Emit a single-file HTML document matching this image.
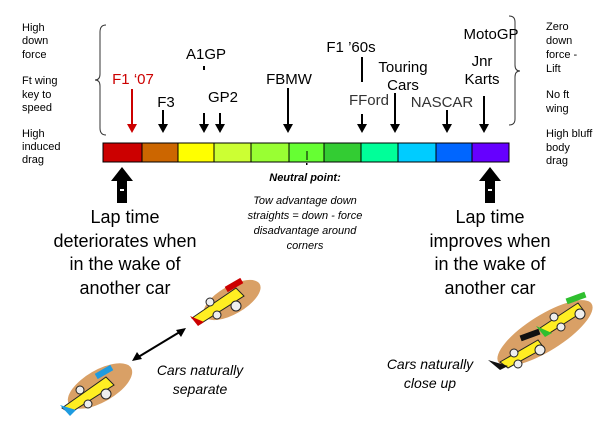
<!DOCTYPE html>
<html><head><style>body{margin:0;background:#fff}svg{display:block}text{font-family:"Liberation Sans",Arial,sans-serif}</style></head>
<body>
<svg width="613" height="441" viewBox="0 0 613 441" xmlns="http://www.w3.org/2000/svg">
<defs>
<marker id="ah" markerWidth="6" markerHeight="6" refX="3" refY="3" orient="auto" markerUnits="userSpaceOnUse"><path d="M0,0 L6,3 L0,6 Z"/></marker>
</defs>
<g font-size="11">
<text x="22" y="31">High</text><text x="22" y="44">down</text><text x="22" y="58">force</text>
<text x="22" y="84">Ft wing</text><text x="22" y="98">key to</text><text x="22" y="111">speed</text>
<text x="22" y="137">High</text><text x="22" y="150">induced</text><text x="22" y="163">drag</text>
<text x="546" y="30">Zero</text><text x="546" y="44">down</text><text x="546" y="58">force -</text><text x="546" y="72">Lift</text>
<text x="546" y="98">No ft</text><text x="546" y="112">wing</text>
<text x="546" y="137">High bluff</text><text x="546" y="151">body</text><text x="546" y="164">drag</text>
</g>
<path d="M106,25 Q100,25 100,32 L100,74 Q100,80 95,80 Q100,80 100,86 L100,128 Q100,135 106,135" fill="none" stroke="#333" stroke-width="1"/>
<path d="M509,16 Q515,16 515,22 L515,65 Q515,71 520,71 Q515,71 515,77 L515,119 Q515,125 509,125" fill="none" stroke="#333" stroke-width="1"/>
<g stroke="#000" stroke-width="1">
<rect x="103" y="143" width="39" height="19" fill="#cc0000"/>
<rect x="142" y="143" width="36" height="19" fill="#cc6600"/>
<rect x="178" y="143" width="36" height="19" fill="#ffff00"/>
<rect x="214" y="143" width="37" height="19" fill="#ccff33"/>
<rect x="251" y="143" width="38" height="19" fill="#99ff33"/>
<rect x="289" y="143" width="35" height="19" fill="#66ff33"/>
<rect x="324" y="143" width="37" height="19" fill="#33cc33"/>
<rect x="361" y="143" width="37" height="19" fill="#00ff99"/>
<rect x="398" y="143" width="38" height="19" fill="#00ccff"/>
<rect x="436" y="143" width="36" height="19" fill="#0066ff"/>
<rect x="472" y="143" width="37" height="19" fill="#6600ff"/>
</g>
<line x1="307" y1="151" x2="307" y2="160" stroke="#000"/>
<rect x="306" y="163" width="1.5" height="2"/>
<g stroke-width="2">
<line x1="132" y1="89" x2="132" y2="126" stroke="#cc0000"/><path d="M127,124 L137,124 L132,133 Z" fill="#cc0000"/>
</g>
<g stroke="#000" stroke-width="2">
<line x1="163" y1="110" x2="163" y2="126"/><line x1="204" y1="113" x2="204" y2="126"/><line x1="220" y1="113" x2="220" y2="126"/>
<line x1="288" y1="88" x2="288" y2="126"/><line x1="362" y1="114" x2="362" y2="126"/><line x1="395" y1="93" x2="395" y2="126"/>
<line x1="447" y1="110" x2="447" y2="126"/><line x1="484" y1="96" x2="484" y2="126"/>
<line x1="204" y1="66" x2="204" y2="70"/><line x1="362" y1="57" x2="362" y2="82"/>
</g>
<g>
<path d="M158,124 L168,124 L163,133 Z"/><path d="M199,124 L209,124 L204,133 Z"/><path d="M215,124 L225,124 L220,133 Z"/>
<path d="M283,124 L293,124 L288,133 Z"/><path d="M357,124 L367,124 L362,133 Z"/><path d="M390,124 L400,124 L395,133 Z"/>
<path d="M442,124 L452,124 L447,133 Z"/><path d="M479,124 L489,124 L484,133 Z"/>
</g>
<g font-size="15" text-anchor="middle">
<text x="133" y="84" fill="#cc0000">F1 ‘07</text>
<text x="166" y="107">F3</text>
<text x="206" y="59">A1GP</text>
<text x="223" y="102">GP2</text>
<text x="289" y="84">FBMW</text>
<text x="351" y="52">F1 ’60s</text>
<text x="369" y="105" fill="#333">FFord</text>
<text x="403" y="72">Touring</text><text x="403" y="90">Cars</text>
<text x="442" y="107" fill="#333">NASCAR</text>
<text x="482" y="66">Jnr</text><text x="482" y="84">Karts</text>
<text x="491" y="39">MotoGP</text>
</g>
<path d="M122,167 L133,181 L127,181 L127,203 L117,203 L117,181 L111,181 Z"/>
<rect x="120" y="189" width="4" height="2" fill="#fff"/>
<path d="M490,167 L501,181 L495,181 L495,203 L485,203 L485,181 L479,181 Z"/>
<rect x="488" y="189" width="4" height="2" fill="#fff"/>
<g font-size="18" text-anchor="middle">
<text x="125" y="223">Lap time</text><text x="125" y="247">deteriorates when</text><text x="125" y="270">in the wake of</text><text x="125" y="294">another car</text>
<text x="490" y="223">Lap time</text><text x="490" y="247">improves when</text><text x="490" y="270">in the wake of</text><text x="490" y="294">another car</text>
</g>
<g font-size="11" font-style="italic" text-anchor="middle">
<text x="305" y="181" font-weight="bold">Neutral point:</text>
<text x="305" y="204">Tow advantage down</text><text x="305" y="219">straights = down - force</text><text x="305" y="234">disadvantage around</text><text x="305" y="249">corners</text>
</g>
<g font-size="14" font-style="italic" text-anchor="middle">
<text x="200" y="375">Cars naturally</text><text x="200" y="394">separate</text>
<text x="430" y="369">Cars naturally</text><text x="430" y="388">close up</text>
</g>
<line x1="135" y1="359" x2="183" y2="330" stroke="#000" stroke-width="2"/>
<path d="M132,361 L137,352 L142,359 Z"/><path d="M186,328 L176,330 L181,337 Z"/>
<!-- cars -->
<g>
<ellipse cx="232" cy="300" rx="32" ry="14" transform="rotate(-30 232 300)" fill="#d9a066"/>
<path d="M192,318 L236,288 L244,296 L200,324 Z" fill="#ffee22" stroke="#222"/>
<rect x="225" y="282" width="18" height="6" fill="#cc0000" transform="rotate(-30 234 285)"/>
<path d="M190,316 L204,322 L198,326 Z" fill="#cc0000"/>
<circle cx="210" cy="302" r="4" fill="#eee" stroke="#222"/><circle cx="236" cy="306" r="5" fill="#eee" stroke="#222"/><circle cx="217" cy="315" r="4" fill="#eee" stroke="#222"/>
</g>
<g>
<ellipse cx="100" cy="386" rx="36" ry="16" transform="rotate(-30 100 386)" fill="#d9a066"/>
<path d="M62,408 L106,377 L114,385 L70,413 Z" fill="#ffee22" stroke="#222"/>
<rect x="95" y="369" width="18" height="6" fill="#1e9be0" transform="rotate(-30 104 372)"/>
<path d="M60,405 L76,410 L70,416 Z" fill="#1e9be0"/>
<circle cx="80" cy="390" r="4" fill="#eee" stroke="#222"/><circle cx="106" cy="394" r="5" fill="#eee" stroke="#222"/><circle cx="88" cy="404" r="4" fill="#eee" stroke="#222"/>
</g>
<g>
<ellipse cx="545" cy="333" rx="55" ry="18" transform="rotate(-32 545 333)" fill="#d9a066"/>
<path d="M540,328 L578,303 L584,311 L548,334 Z" fill="#ffee22" stroke="#222"/>
<rect x="566" y="295" width="20" height="6" fill="#2fbf2f" transform="rotate(-20 576 298)"/>
<path d="M536,326 L552,333 L545,337 Z" fill="#2fbf2f"/>
<circle cx="554" cy="317" r="4" fill="#eee" stroke="#222"/><circle cx="580" cy="314" r="5" fill="#eee" stroke="#222"/><circle cx="561" cy="327" r="4" fill="#eee" stroke="#222"/>
<path d="M500,362 L538,340 L544,348 L508,368 Z" fill="#ffee22" stroke="#222"/>
<rect x="520" y="332" width="20" height="6" fill="#111" transform="rotate(-20 530 335)"/>
<path d="M488,360 L508,366 L500,370 Z" fill="#111"/>
<circle cx="514" cy="353" r="4" fill="#eee" stroke="#222"/><circle cx="540" cy="350" r="5" fill="#eee" stroke="#222"/><circle cx="518" cy="364" r="4" fill="#eee" stroke="#222"/>
</g>
</svg>
</body></html>
